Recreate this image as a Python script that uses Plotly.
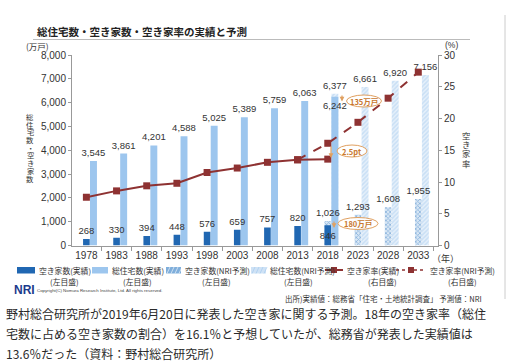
import plotly.graph_objects as go

# ---------------- data ----------------
years = ["1978", "1983", "1988", "1993", "1998", "2003", "2008", "2013", "2018", "2023", "2028", "2033"]
act_years = years[:9]
nri_years = years[8:]
rate_nri_years = years[7:]

vacant_actual = [268, 330, 394, 448, 576, 659, 757, 820, 846]
vacant_nri = [1026, 1293, 1608, 1955]
total_actual = [3545, 3861, 4201, 4588, 5025, 5389, 5759, 6063, 6242]
total_nri = [6377, 6661, 6920, 7156]
rate_actual = [7.6, 8.6, 9.4, 9.8, 11.5, 12.2, 13.1, 13.5, 13.6]
rate_nri = [13.5, 16.1, 19.4, 23.2, 27.3]

left_ticks = [0, 1000, 2000, 3000, 4000, 5000, 6000, 7000, 8000]
right_ticks = [0, 5, 10, 15, 20, 25, 30]

title_text = "総住宅数・空き家数・空き家率の実績と予測"
left_axis_title = "総住宅数・空き家数"
right_axis_title = "空き家率"
legend_items = ["空き家数(実績)", "総住宅数(実績)", "空き家数(NRI予測)", "総住宅数(NRI予測)", "空き家率(実績)", "空き家率(NRI予測)"]
legend_subs = ["(左目盛)", "(左目盛)", "(左目盛)", "(左目盛)", "(右目盛)", "(右目盛)"]
source_text = "出所)実績値：総務省「住宅・土地統計調査」 予測値：NRI"
copyright_text = "Copyright(C) Nomura Research Institute, Ltd. All rights reserved."
caption_lines = [
    "野村総合研究所が2019年6月20日に発表した空き家に関する予測。18年の空き家率（総住",
    "宅数に占める空き家数の割合）を16.1％と予想していたが、総務省が発表した実績値は",
    "13.6％だった（資料：野村総合研究所）",
]

# ---------------- styles ----------------
W, H = 525, 363
JP = "Noto Sans CJK JP"
NUM = "Liberation Sans, Arial, sans-serif"
DARK = "#2067B2"
LIGHT = "#9DC6EE"
RED = "#8E3232"
ORANGE = "#E0A060"
ORANGE_T = "#C8772E"
TXT = "#333333"
LBL = 9.5


def px(x):
    return x / W


def py(y):
    return 1 - y / H


def note(x, y, text, size, color=TXT, family=JP, xanchor="center", pad=1):
    return dict(x=px(x), y=py(y), xref="paper", yref="paper", xanchor=xanchor, yanchor="middle",
                text=text, showarrow=False, borderpad=pad, font=dict(family=family, size=size, color=color))


fig = go.Figure()

# total housing bars (drawn first)
fig.add_trace(go.Bar(
    x=nri_years, y=total_nri, offset=0.12, width=0.23, yaxis="y",
    marker=dict(color="#E3EEF9", line=dict(width=0),
                pattern=dict(shape="/", fgcolor="#A9CDEF", bgcolor="#E6F0FA", size=3, solidity=0.5)),
    text=[f"{v:,}" for v in total_nri], textposition="outside", textangle=0,
    constraintext="none", cliponaxis=False,
    textfont=dict(family=NUM, size=LBL, color=TXT),
))
fig.add_trace(go.Bar(
    x=act_years, y=total_actual, offset=0.12, width=0.23, yaxis="y",
    marker=dict(color=LIGHT, line=dict(width=0)),
    text=[f"{v:,}" for v in total_actual],
    textposition=["outside"] * 8 + ["inside"], insidetextanchor="end", textangle=0,
    constraintext="none", cliponaxis=False,
    textfont=dict(family=NUM, size=LBL, color=TXT),
    insidetextfont=dict(family=NUM, size=LBL, color=TXT),
    outsidetextfont=dict(family=NUM, size=LBL, color=TXT),
))
# vacant bars
fig.add_trace(go.Bar(
    x=nri_years, y=vacant_nri, offset=-0.11, width=0.22, yaxis="y",
    marker=dict(color="#EAF2FA", line=dict(width=0),
                pattern=dict(shape="x", fgcolor="#3A7CC0", bgcolor="#D8E7F5", size=3, solidity=0.45)),
    text=[f"{v:,}" for v in vacant_nri], textposition="outside", textangle=0,
    constraintext="none", cliponaxis=False,
    textfont=dict(family=NUM, size=LBL, color=TXT),
))
fig.add_trace(go.Bar(
    x=act_years, y=vacant_actual, offset=-0.11, width=0.22, yaxis="y",
    marker=dict(color=DARK, line=dict(width=0)),
    text=[f"{v:,}" for v in vacant_actual],
    textposition=["outside"] * 8 + ["inside"], insidetextanchor="middle", textangle=0,
    constraintext="none", cliponaxis=False,
    textfont=dict(family=NUM, size=LBL, color=TXT),
    insidetextfont=dict(family=NUM, size=LBL, color=TXT),
    outsidetextfont=dict(family=NUM, size=LBL, color=TXT),
))
# rate lines
fig.add_trace(go.Scatter(
    x=rate_nri_years, y=rate_nri, yaxis="y2", mode="lines+markers",
    line=dict(color=RED, width=2, dash="dash"),
    marker=dict(symbol="square", size=7, color=RED),
    cliponaxis=False,
))
fig.add_trace(go.Scatter(
    x=act_years, y=rate_actual, yaxis="y2", mode="lines+markers",
    line=dict(color=RED, width=2),
    marker=dict(symbol="square", size=7, color=RED),
    cliponaxis=False,
))

annotations = []
shapes = []

# rate labels
act_shift = [-13, -16, -18, -13, -15, -19, -13, -15, -10]
for yr, v, s in zip(act_years, rate_actual, act_shift):
    annotations.append(dict(x=yr, y=v, xref="x", yref="y2", xanchor="center", yanchor="middle",
                            text=f"{v}", showarrow=False,
                            yshift=s, font=dict(family=NUM, size=LBL, color=TXT)))
nri_shift = [None, (-3, 6), (-3, 6), (0, -14), (0, -14)]
for yr, v, s in zip(rate_nri_years, rate_nri, nri_shift):
    if s is None:
        continue
    annotations.append(dict(x=yr, y=v, xref="x", yref="y2", xanchor="center", yanchor="middle",
                            text=f"{v}", showarrow=False,
                            xshift=s[0], yshift=s[1], font=dict(family=NUM, size=LBL, color=TXT)))

# title and underline
annotations.append(note(35, 31.5, f"<b>{title_text}</b>", 10.5, "#222", xanchor="left"))
shapes.append(dict(type="line", xref="paper", yref="paper", x0=px(33), x1=px(470), y0=py(39.5), y1=py(39.5),
                   line=dict(color="#BBBBBB", width=1)))
# right frame line
shapes.append(dict(type="line", xref="paper", yref="paper", x0=px(505), x1=px(505), y0=py(15), y1=py(299),
                   line=dict(color="#CCCCCC", width=1)))

# unit labels
annotations.append(note(37, 46, "(万戸)", 8.5))
annotations.append(note(451, 45, "(%)", 8.5, family=NUM))
annotations.append(note(445, 258, "（年）", 9))

# vertical axis titles
for i, ch in enumerate(left_axis_title):
    annotations.append(note(30, 117 + i * 7.7, ch, 7.3, pad=0))
for i, ch in enumerate(right_axis_title):
    annotations.append(note(466, 135 + i * 9.2, ch, 8.3, pad=0))

# callout ovals
ovals = [("135万戸", 364, 101, 35, 12), ("2.5pt", 352, 151, 30, 12), ("180万戸", 358, 223.5, 40, 12)]
for t, cx, cy, w, h in ovals:
    shapes.append(dict(type="circle", xref="paper", yref="paper",
                       x0=px(cx - w / 2), x1=px(cx + w / 2), y0=py(cy + h / 2), y1=py(cy - h / 2),
                       line=dict(color=ORANGE, width=1), fillcolor="rgba(255,255,255,0.9)"))
    annotations.append(note(cx, cy, f"<b>{t}</b>", 7.5, ORANGE_T))
# small arrows
arrows = [(342, 94, 101.5), (331, 145, 158), (334, 220, 228)]
for ax_, y0, y1 in arrows:
    annotations.append(dict(x=px(ax_), y=py(y1), xref="paper", yref="paper", ax=0, ay=-(y1 - y0),
                            axref="pixel", ayref="pixel", text="", showarrow=True,
                            arrowhead=2, arrowsize=0.8, arrowwidth=1.2, arrowcolor=ORANGE))

# legend (manual)
row1, row2 = 270, 281.5
sw = [(17, 35), (92, 108), (166, 181), (251, 266)]
sw_colors = [DARK, LIGHT, "#7FAEDB", "#CFE2F5"]
text_x = [37, 110, 183, 268, 345, 428]
sub_x = [64, 137.5, 216.5, 298, 382.5, 462.5]
for (a, b), c in zip(sw, sw_colors):
    shapes.append(dict(type="rect", xref="paper", yref="paper", x0=px(a), x1=px(b), y0=py(273.5), y1=py(267),
                       line=dict(width=0), fillcolor=c))
# hatching hints on forecast swatches
for k in range(4):
    xx = 167 + k * 4
    shapes.append(dict(type="line", xref="paper", yref="paper", x0=px(xx), x1=px(xx + 3), y0=py(273.5), y1=py(267),
                       line=dict(color="#FFFFFF", width=0.6)))
    xx2 = 252 + k * 4
    shapes.append(dict(type="line", xref="paper", yref="paper", x0=px(xx2), x1=px(xx2 + 3), y0=py(273.5), y1=py(267),
                       line=dict(color="#A9CDEF", width=0.8)))
# line swatches
shapes.append(dict(type="line", xref="paper", yref="paper", x0=px(325), x1=px(343), y0=py(row1), y1=py(row1),
                   line=dict(color=RED, width=2)))
shapes.append(dict(type="rect", xref="paper", yref="paper", x0=px(331), x1=px(337), y0=py(row1 + 3), y1=py(row1 - 3),
                   line=dict(width=0), fillcolor=RED))
shapes.append(dict(type="line", xref="paper", yref="paper", x0=px(396), x1=px(426), y0=py(row1), y1=py(row1),
                   line=dict(color=RED, width=1.6, dash="dot")))
shapes.append(dict(type="rect", xref="paper", yref="paper", x0=px(408), x1=px(414), y0=py(row1 + 3), y1=py(row1 - 3),
                   line=dict(width=0), fillcolor=RED))
for t, x in zip(legend_items, text_x):
    annotations.append(note(x, row1, t, 7.8, xanchor="left"))
for t, x in zip(legend_subs, sub_x):
    annotations.append(note(x, row2, t, 7.8))
annotations.append(note(283, 298, source_text, 7.5, xanchor="left"))
# logo & copyright
annotations.append(note(12, 290, "<b>NRI</b>", 12, "#1B3A8C", family=NUM, xanchor="left"))
annotations.append(note(35, 290.5, copyright_text, 4.4, "#444", family=NUM, xanchor="left"))
# caption
for t, yc in zip(caption_lines, [313, 333.5, 353.5]):
    annotations.append(note(4, yc, t, 12.0, "#2A2A2A", xanchor="left"))

fig.update_layout(
    width=W, height=H, margin=dict(l=0, r=0, t=0, b=0, autoexpand=False),
    paper_bgcolor="white", plot_bgcolor="white",
    barmode="overlay", showlegend=False,
    xaxis=dict(domain=[px(72), px(438)], type="category", categoryorder="array", categoryarray=years,
               range=[-0.477, 11.653], showline=True, linecolor="#999999", linewidth=1,
               ticks="outside", ticklen=4, tickcolor="#999999", tickson="boundaries", tickangle=0,
               tickfont=dict(family=NUM, size=10, color=TXT), showgrid=False, zeroline=False),
    yaxis=dict(domain=[py(245.5), py(55)], range=[0, 8000], tickvals=left_ticks,
               ticktext=[f"{v:,}" for v in left_ticks], showline=True, linecolor="#999999",
               ticks="outside", ticklen=3, tickcolor="#999999", showgrid=False, zeroline=False,
               tickfont=dict(family=NUM, size=10, color=TXT)),
    yaxis2=dict(overlaying="y", side="right", range=[0, 30], tickvals=right_ticks,
                showline=True, linecolor="#999999", ticks="outside", ticklen=3, tickcolor="#999999",
                showgrid=False, zeroline=False, tickfont=dict(family=NUM, size=10, color=TXT)),
    annotations=annotations, shapes=shapes,
)

fig.write_html("out.html", config={"displayModeBar": False},
               post_script="document.body.style.margin='0px';document.body.style.overflow='hidden';")
